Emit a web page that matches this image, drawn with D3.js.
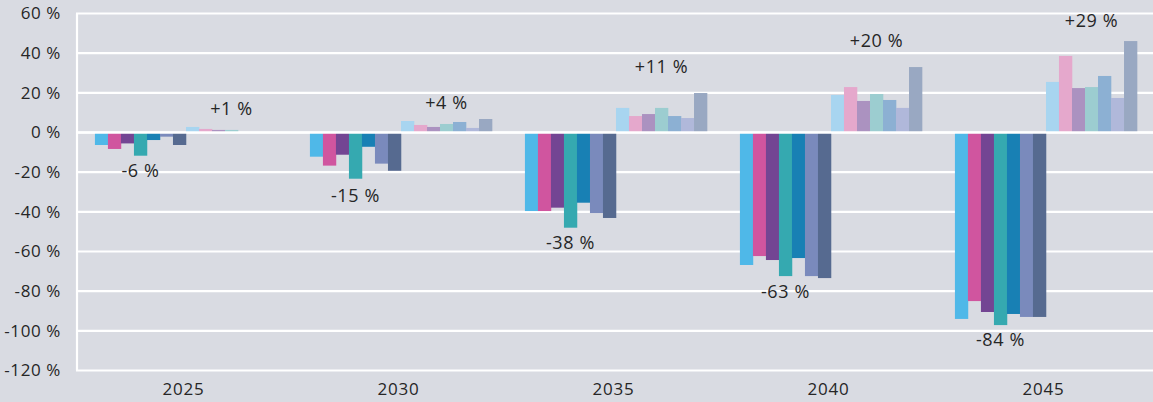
<!DOCTYPE html>
<html>
<head>
<meta charset="utf-8">
<script src="https://cdn.jsdelivr.net/npm/d3@7"></script>
<style>
  html, body { margin: 0; padding: 0; background: #d9dbe2; }
  svg { display: block; }
  text { font-family: "Open Sans", "Noto Sans", sans-serif; fill: #262626; }
</style>
</head>
<body>
<svg id="chart"></svg>
<script>
// years on the x axis
const years = ["2025", "2030", "2035", "2040", "2045"]

// 7 series going down, 7 going up (values in %)
const decreaseKeys = ["d1", "d2", "d3", "d4", "d5", "d6", "d7"]
const increaseKeys = ["i1", "i2", "i3", "i4", "i5", "i6", "i7"]

const decrease = [
    [-6.3, -8.3, -5.5, -11.7, -3.8, -2.1, -6.3],
    [-12.2, -16.7, -11.2, -23.3, -7.2, -15.7, -19.3],
    [-39.6, -39.6, -37.9, -48.0, -35.4, -40.6, -43.1],
    [-66.8, -62.3, -64.3, -72.4, -63.3, -72.4, -73.4],
    [-94.0, -85.0, -90.5, -97.1, -91.5, -93.0, -93.0]
]
const increase = [
    [2.8, 1.8, 1.3, 1.3, 0, 0, 0],
    [5.8, 3.8, 2.8, 4.3, 5.3, 2.3, 6.8],
    [12.4, 8.3, 9.3, 12.4, 8.3, 7.3, 19.9],
    [18.9, 22.9, 15.9, 19.4, 16.4, 12.4, 33.0],
    [25.5, 38.6, 22.4, 22.9, 28.5, 17.4, 46.1]
]

// average labels and where they sit (in % units)
const decreaseLabels = ["-6 %", "-15 %", "-38 %", "-63 %", "-84 %"]
const decreaseLabelAt = [-19.4, -32, -55.7, -80.4, -104.6]
const increaseLabels = ["+1 %", "+4 %", "+11 %", "+20 %", "+29 %"]
const increaseLabelAt = [11.9, 14.9, 33, 46.1, 56.2]

const yTicks = [60, 40, 20, 0, -20, -40, -60, -80, -100, -120]

const decreaseColors = ["#4fb8e8", "#d0559f", "#734593", "#35a9b0", "#1880b4", "#7a8abc", "#566a90"]
const increaseColors = ["#a8d5f0", "#e5a8cc", "#ab92c0", "#9ccdd0", "#8cb0d3", "#b0b8da", "#99a8c2"]

const W = 1153, H = 402
const margin = {top: 13.5, right: 2, bottom: 31.5, left: 76}

const svg = d3.select("#chart").attr("width", W).attr("height", H)

const x0 = d3.scaleBand()
    .domain(years)
    .range([margin.left, W - margin.right])

const allKeys = decreaseKeys.concat(increaseKeys)
const x1 = d3.scaleBand()
    .domain(allKeys)
    .range([x0.bandwidth() * 0.088, x0.bandwidth() * 0.935])

const y = d3.scaleLinear()
    .domain([-120, 60])
    .range([H - margin.bottom, margin.top])

const color = d3.scaleOrdinal()
    .domain(allKeys)
    .range(decreaseColors.concat(increaseColors))

// gridlines
svg.append("g")
    .selectAll("line")
    .data(yTicks)
    .join("line")
    .attr("x1", margin.left)
    .attr("x2", W)
    .attr("y1", d => y(d))
    .attr("y2", d => y(d))
    .attr("stroke", "#ffffff")
    .attr("stroke-width", 2.2)

// left border
svg.append("line")
    .attr("x1", margin.left + 1).attr("x2", margin.left + 1)
    .attr("y1", y(60)).attr("y2", y(-120))
    .attr("stroke", "#ffffff")
    .attr("stroke-width", 2.2)

// y axis labels
svg.append("g")
    .attr("transform", `translate(${margin.left - 15},0)`)
    .call(d3.axisLeft(y).tickValues(yTicks).tickSize(0).tickPadding(0).tickFormat(d => d + " %"))
    .call(g => g.select(".domain").remove())
    .selectAll("text")
    .style("font-size", "17px")
    .style("letter-spacing", "0.6px")
    .style("font-family", '"Open Sans", sans-serif')
    .attr("fill", "#262626")

// x axis labels
svg.append("g")
    .attr("transform", `translate(0,${H - margin.bottom})`)
    .call(d3.axisBottom(x0).tickSize(0).tickPadding(12))
    .call(g => g.select(".domain").remove())
    .selectAll("text")
    .style("font-size", "17px")
    .style("letter-spacing", "0.8px")
    .style("font-family", '"Open Sans", sans-serif')
    .attr("fill", "#262626")

// bars
const rows = years.map((yr, i) => {
    const r = {year: yr}
    decreaseKeys.forEach((k, j) => r[k] = decrease[i][j])
    increaseKeys.forEach((k, j) => r[k] = increase[i][j])
    return r
})

svg.append("g")
    .selectAll("g")
    .data(rows)
    .join("g")
    .attr("transform", d => `translate(${x0(d.year)},0)`)
    .selectAll("rect")
    .data(d => allKeys.map(k => ({key: k, value: d[k]})))
    .join("rect")
    .attr("x", d => x1(d.key))
    .attr("width", x1.bandwidth() + 0.3)
    .attr("y", d => y(Math.max(0, d.value)))
    .attr("height", d => Math.abs(y(d.value) - y(0)))
    .attr("fill", d => color(d.key))

// zero line on top of the bars
svg.append("line")
    .attr("x1", margin.left).attr("x2", W)
    .attr("y1", y(0)).attr("y2", y(0))
    .attr("stroke", "#ffffff")
    .attr("stroke-width", 2.6)

// average labels
const negCenter = (x1(decreaseKeys[0]) + x1(decreaseKeys[6]) + x1.bandwidth()) / 2
const posCenter = (x1(increaseKeys[0]) + x1(increaseKeys[6]) + x1.bandwidth()) / 2

svg.append("g")
    .selectAll("text")
    .data(years)
    .join("text")
    .attr("x", (d, i) => x0(d) + negCenter)
    .attr("y", (d, i) => y(decreaseLabelAt[i]))
    .attr("dy", "0.35em")
    .attr("text-anchor", "middle")
    .style("font-size", "18px")
    .style("letter-spacing", "0.6px")
    .text((d, i) => decreaseLabels[i])

svg.append("g")
    .selectAll("text")
    .data(years)
    .join("text")
    .attr("x", (d, i) => x0(d) + posCenter)
    .attr("y", (d, i) => y(increaseLabelAt[i]))
    .attr("dy", "0.35em")
    .attr("text-anchor", "middle")
    .style("font-size", "18px")
    .style("letter-spacing", "0.6px")
    .text((d, i) => increaseLabels[i])
</script>
</body>
</html>
